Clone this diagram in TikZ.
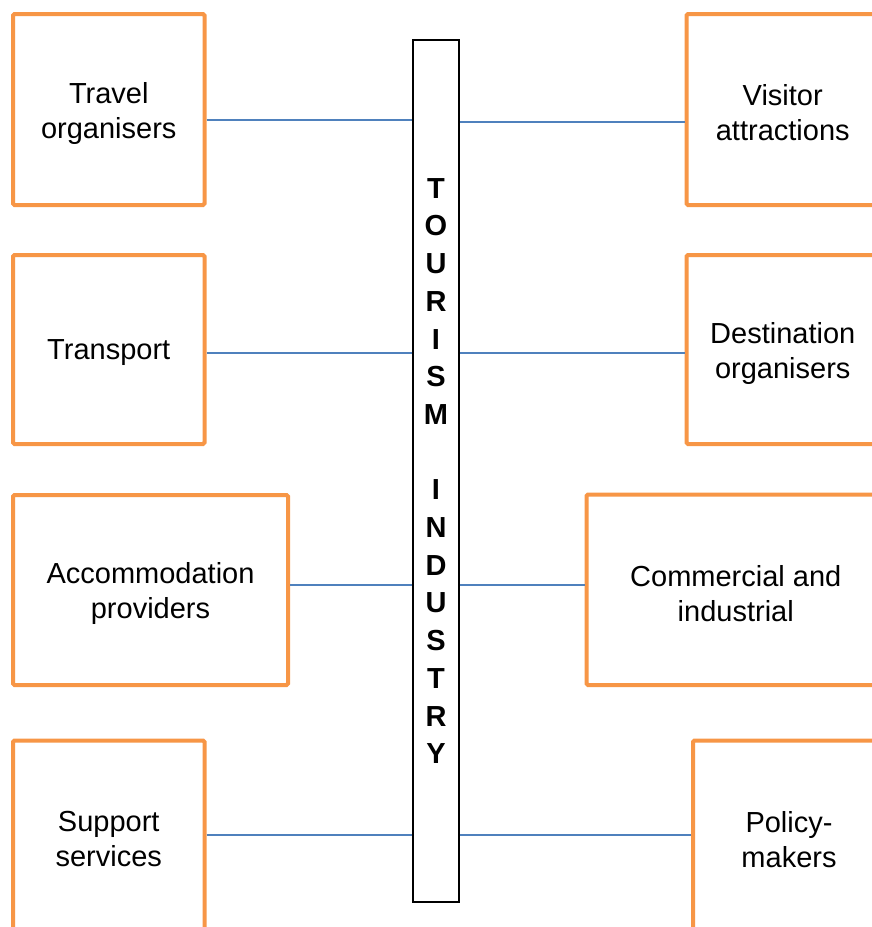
\documentclass[tikz,border=0pt]{standalone}
\usepackage{fontspec}
\setmainfont{Liberation Sans}
\definecolor{boxorange}{HTML}{F79646}
\definecolor{linkblue}{HTML}{4F81BD}
\begin{document}
\begin{tikzpicture}[x=1pt,y=-1pt,
  sector/.style={draw=boxorange, line width=4pt, rounded corners=1.5pt,
    fill=white, inner sep=0pt},
  sectortext/.style={align=center, inner sep=0pt,
    font=\fontsize{29}{35}\selectfont},
  industry/.style={draw=black, line width=2pt, fill=white, inner sep=0pt,
    minimum width=46pt, minimum height=862pt},
  link/.style={draw=linkblue, line width=1.6pt}]
  \path[use as bounding box, clip] (0,0) rectangle (872,927);

  % central bar
  \node[industry] (bar) at (436,471) {};
  \node[align=center, font=\fontsize{29}{37.7}\selectfont\bfseries] (label) at (436,471)
    {T\\O\\U\\R\\I\\S\\M\\\mbox{}\\I\\N\\D\\U\\S\\T\\R\\Y};

  % left-hand sectors
  \node[sector, minimum width=191.5pt, minimum height=191pt] (to) at (108.75,109.5) {};
  \node[sector, minimum width=191.5pt, minimum height=189pt] (tr) at (108.75,349.5) {};
  \node[sector, minimum width=275pt, minimum height=190pt] (ap) at (150.5,590) {};
  \node[sector, minimum width=191.5pt, minimum height=190.5pt] (ss) at (108.75,835.75) {};

  % right-hand sectors
  \node[sector, minimum width=192.5pt, minimum height=191pt] (va) at (782.75,109.5) {};
  \node[sector, minimum width=192.5pt, minimum height=189pt] (do) at (782.75,349.5) {};
  \node[sector, minimum width=298.5pt, minimum height=190.5pt] (ci) at (735.75,589.75) {};
  \node[sector, minimum width=192pt, minimum height=190.5pt] (pm) at (789,835.75) {};

  % sector names, set a little below each box centre
  \node[sectortext] (to-t) at ([yshift=-3.5pt]to.center) {Travel\\organisers};
  \node[sectortext] (tr-t) at ([yshift=-3.5pt]tr.center) {Transport};
  \node[sectortext] (ap-t) at ([yshift=-3.5pt]ap.center) {Accommodation\\providers};
  \node[sectortext] (ss-t) at ([yshift=-3.5pt]ss.center) {Support\\services};
  \node[sectortext] (va-t) at ([yshift=-3.5pt]va.center) {Visitor\\attractions};
  \node[sectortext] (do-t) at ([yshift=-3.5pt]do.center) {Destination\\organisers};
  \node[sectortext] (ci-t) at ([yshift=-3.5pt]ci.center) {Commercial and\\industrial};
  \node[sectortext] (pm-t) at ([yshift=-3.5pt]pm.center) {Policy-\\makers};

  % connectors to the bar
  \draw[link] (to.east |- 0,120) -- (bar.west |- 0,120);
  \draw[link] (bar.east |- 0,122) -- (va.west |- 0,122);
  \draw[link] (tr.east |- 0,353) -- (bar.west |- 0,353);
  \draw[link] (bar.east |- 0,353) -- (do.west |- 0,353);
  \draw[link] (ap.east |- 0,585) -- (bar.west |- 0,585);
  \draw[link] (bar.east |- 0,585) -- (ci.west |- 0,585);
  \draw[link] (ss.east |- 0,835) -- (bar.west |- 0,835);
  \draw[link] (bar.east |- 0,835) -- (pm.west |- 0,835);
\end{tikzpicture}
\end{document}
